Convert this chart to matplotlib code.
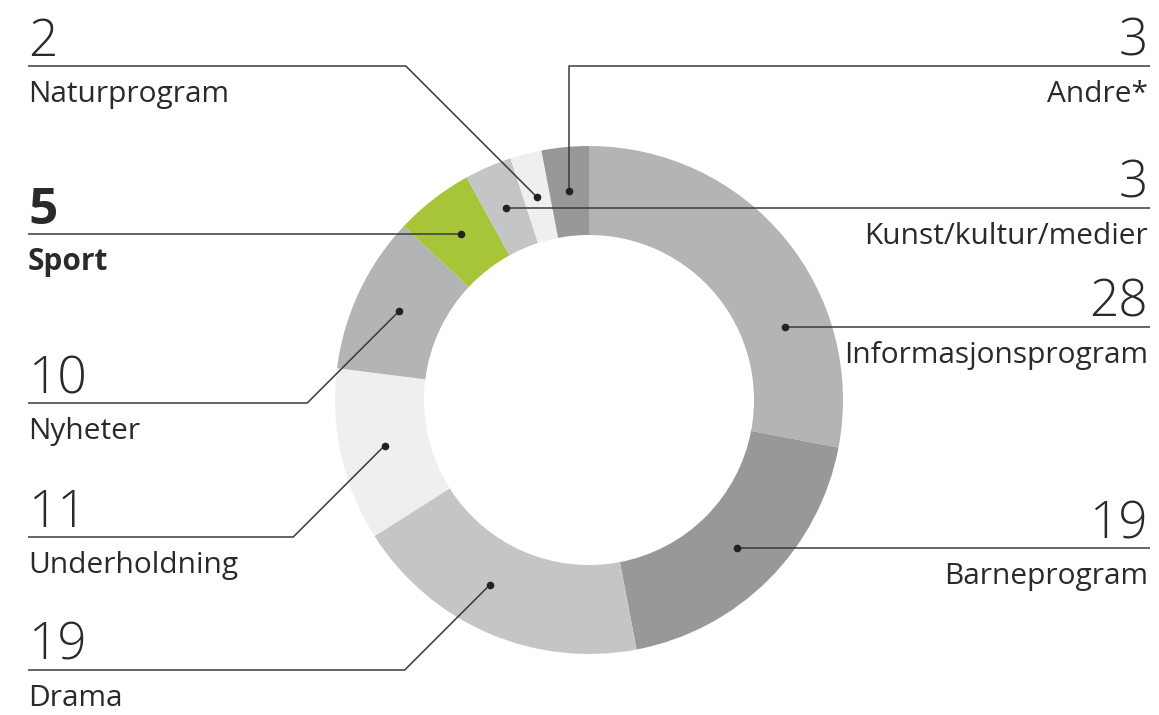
import numpy as np
import matplotlib
matplotlib.use('Agg')
import matplotlib.pyplot as plt

# share of broadcast hours by genre, clockwise from 12 o'clock
categories = ['Informasjonsprogram', 'Barneprogram', 'Drama', 'Underholdning',
              'Nyheter', 'Sport', 'Kunst/kultur/medier', 'Naturprogram', 'Andre*']
values = [28, 19, 19, 11, 10, 5, 3, 2, 3]
colors = ['#b3b4b6', '#97989a', '#c4c5c7', '#efefef',
          '#b3b4b6', '#a7c539', '#c4c5c7', '#efefef', '#97989a']
highlight = 'Sport'

# label layout (pixel coords, y measured from top of image)
side = ['right', 'right', 'left', 'left', 'left', 'left', 'right', 'left', 'right']
line_y = [327, 543, 670, 537, 403, 232, 208, 66, 66]
leader = ['flat', 'flat', 'diag', 'diag', 'diag', 'flat', 'flat', 'diag', 'vert']
anchor_frac = [0.69, 0.5, 0.57, 0.5, 0.5, 0.5, 0.5, 0.5, 0.5]

W, H = 1159, 715
CX, CY = 589, 400
R_OUT, R_IN = 254, 165
R_MID = (R_OUT + R_IN) / 2
LEFT_X, RIGHT_X = 28, 1150

TXT = '#2a2a2a'
LINE = '#3a3a3a'
FONT = 'Open Sans'

fig = plt.figure(figsize=(W / 100, H / 100), dpi=100)
ax = fig.add_axes([0, 0, 1, 1])

wedges, _ = ax.pie(values, colors=colors, startangle=90, counterclock=False,
                   center=(CX, H - CY), radius=R_OUT, frame=True,
                   wedgeprops=dict(width=R_OUT - R_IN, linewidth=0))

for w, name, val, s, ly, kind, f in zip(wedges, categories, values, side,
                                        line_y, leader, anchor_frac):
    ang = np.deg2rad(w.theta2 - f * (w.theta2 - w.theta1))
    dx = CX + R_MID * np.cos(ang)
    dy = CY - R_MID * np.sin(ang)
    end_x = RIGHT_X if s == 'right' else LEFT_X

    if kind == 'flat':
        xs, ys = [dx, end_x], [dy, dy]
        ly = dy
    elif kind == 'vert':
        xs, ys = [dx, dx, end_x], [dy, ly, ly]
    else:
        off = abs(ly - dy)
        ex = dx - off if s == 'left' else dx + off
        xs, ys = [dx, ex, end_x], [dy, ly, ly]

    ax.plot(xs, [H - y for y in ys], color=LINE, lw=1.1, solid_capstyle='butt')
    ax.plot(dx, H - dy, 'o', color='#222222', ms=5.5, mec='none')

    ha = 'right' if s == 'right' else 'left'
    tx = RIGHT_X - 2 if s == 'right' else LEFT_X
    bold = name == highlight
    ax.text(tx, H - (ly - 10), str(val), ha=ha, va='baseline', fontsize=37,
            family=FONT, fontweight='bold' if bold else 'light', color=TXT)
    ax.text(tx, H - (ly + 36), name, ha=ha, va='baseline', fontsize=21.5,
            family=FONT, fontweight='bold' if bold else 'normal', color=TXT)

ax.set_xlim(0, W)
ax.set_ylim(0, H)
ax.set_aspect('equal')
ax.axis('off')

fig.savefig('out.png', dpi=100, facecolor='white')
